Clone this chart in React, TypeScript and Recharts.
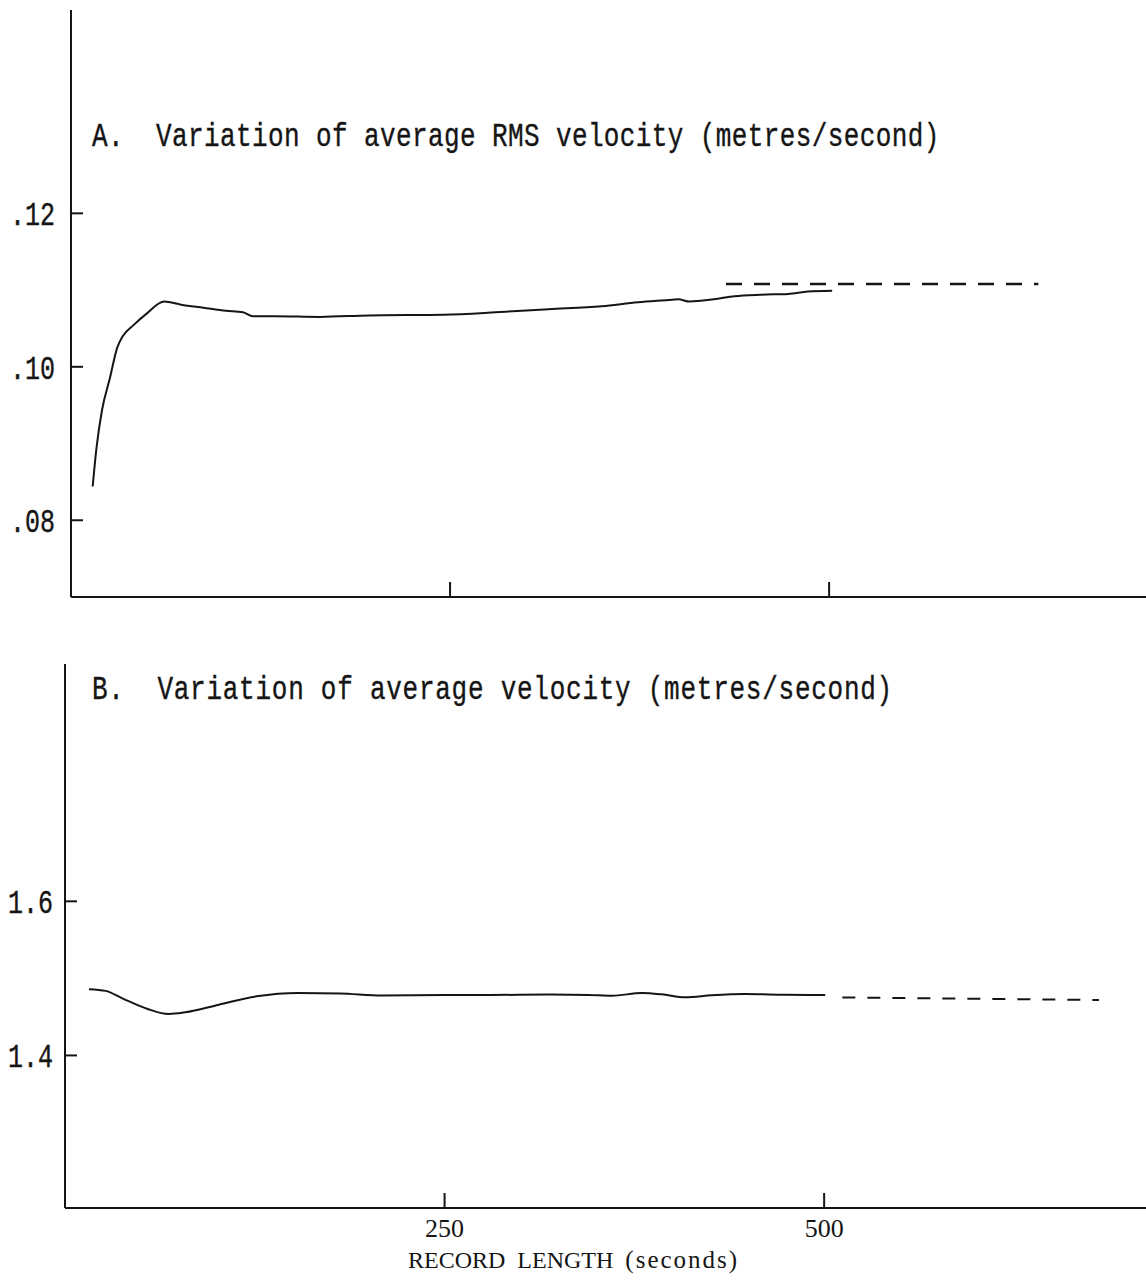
import { LineChart, Line, XAxis, YAxis } from 'recharts';

// A. average RMS velocity against record length
const rmsSeconds = [14.3, 16.8, 20.5, 25.5, 30.5, 34.2, 41.6, 50.3, 61.4, 72.6, 87.4, 102.2, 113.4, 119.6, 134.5, 164.2, 196.4, 245.9, 280, 315, 350, 374, 394, 400.5, 408, 424, 437.6, 455, 473, 486, 502];
const rmsVelocity = [0.0844, 0.0894, 0.0944, 0.0984, 0.1025, 0.104, 0.1055, 0.107, 0.1085, 0.1081, 0.1077, 0.1073, 0.1071, 0.1066, 0.1066, 0.1065, 0.1067, 0.1068, 0.1071, 0.1075, 0.1079, 0.1084, 0.1087, 0.1088, 0.1085, 0.1088, 0.1092, 0.1094, 0.1095, 0.1098, 0.1099];
const rmsLimitSeconds = [432, 638];
const rmsLimitVelocity = [0.1108, 0.1108];
const rmsTicks = [0.08, 0.1, 0.12];

// B. average velocity against record length
const meanSeconds = [15.8, 26.8, 37.8, 54.4, 68.2, 79.2, 101.3, 126.1, 153.6, 181.2, 208.8, 250.2, 277.7, 320, 345, 360.3, 380, 393, 408.5, 426, 448, 474.3, 500.7];
const meanVelocity = [1.486, 1.4838, 1.474, 1.4603, 1.4537, 1.4559, 1.4658, 1.4767, 1.4811, 1.4805, 1.4778, 1.4784, 1.4784, 1.479, 1.4785, 1.4775, 1.481, 1.4793, 1.4754, 1.478, 1.4797, 1.4788, 1.4784];
const meanLimitSeconds = [512, 600, 681];
const meanLimitVelocity = [1.4752, 1.4736, 1.472];
const meanTicks = [1.4, 1.6];

const secondTicks = [250, 500];

const ink = '#151515';
const mono = '"Liberation Mono", monospace';
const serif = '"Liberation Serif", serif';

const zip = (xs: number[], ys: number[]) => xs.map((t, i) => ({ t, v: ys[i] }));

const TypeTick = (props: any) => {
  const { x, y, payload, fmt } = props;
  return (
    <g transform={`translate(${x},${y}) scale(1,1.3)`}>
      <text x={0} y={0} dy="0.36em" textAnchor="end" fontFamily={mono} fontSize={25} fill={ink}
        stroke={ink} strokeWidth={0.3}>
        {fmt(payload.value)}
      </text>
    </g>
  );
};

const axisStyle = { stroke: ink, strokeWidth: 2 };

export default function App() {
  return (
    <div style={{ position: 'absolute', left: 0, top: 0, width: 1146, height: 1288, background: '#fff' }}>
      <div style={{ position: 'absolute', left: 0, top: 0 }}>
        <LineChart width={1146} height={610} margin={{ top: 10, right: 0, bottom: 0, left: 0 }}>
          <XAxis type="number" dataKey="t" domain={[0, 709]} ticks={secondTicks} height={13}
            tickSize={-15} tickFormatter={() => ''} axisLine={axisStyle} tickLine={axisStyle} allowDataOverflow />
          <YAxis type="number" domain={[0.07, 0.1465]} ticks={rmsTicks} width={71} tickSize={-12} tickMargin={28}
            axisLine={axisStyle} tickLine={axisStyle} allowDataOverflow
            tick={<TypeTick fmt={(v: number) => v.toFixed(2).replace(/^0/, '')} />} />
          <Line data={zip(rmsSeconds, rmsVelocity)} dataKey="v" type="monotone" dot={false}
            stroke={ink} strokeWidth={2} isAnimationActive={false} />
          <Line data={zip(rmsLimitSeconds, rmsLimitVelocity)} dataKey="v" type="linear" dot={false}
            stroke={ink} strokeWidth={2.5} strokeDasharray="16 12" isAnimationActive={false} />
        </LineChart>
      </div>
      <div style={{ position: 'absolute', left: 0, top: 640 }}>
        <LineChart width={1146} height={648} margin={{ top: 24, right: 0, bottom: 0, left: 0 }}>
          <XAxis type="number" dataKey="t" domain={[0, 712]} ticks={secondTicks} height={80}
            tickSize={-15} tickMargin={26} axisLine={axisStyle} tickLine={axisStyle} allowDataOverflow
            tick={{ fontFamily: serif, fontSize: 26, fill: ink }} />
          <YAxis type="number" domain={[1.202, 1.908]} ticks={meanTicks} width={65} tickSize={-12} tickMargin={24}
            axisLine={axisStyle} tickLine={axisStyle} allowDataOverflow
            tick={<TypeTick fmt={(v: number) => v.toFixed(1)} />} />
          <Line data={zip(meanSeconds, meanVelocity)} dataKey="v" type="monotone" dot={false}
            stroke={ink} strokeWidth={2} isAnimationActive={false} />
          <Line data={zip(meanLimitSeconds, meanLimitVelocity)} dataKey="v" type="linear" dot={false}
            stroke={ink} strokeWidth={2} strokeDasharray="13 12" isAnimationActive={false} />
        </LineChart>
      </div>
      <svg width={1146} height={1288} style={{ position: 'absolute', left: 0, top: 0, pointerEvents: 'none' }}>
        <text transform="translate(92,146) scale(1,1.3)" fontFamily={mono} fontSize={26} letterSpacing={0.4}
          fill={ink} stroke={ink} strokeWidth={0.3} xmlSpace="preserve" style={{ whiteSpace: 'pre' }}>
          A.  Variation of average RMS velocity (metres/second)
        </text>
        <text transform="translate(92,699) scale(1,1.3)" fontFamily={mono} fontSize={26} letterSpacing={0.75}
          fill={ink} stroke={ink} strokeWidth={0.3} xmlSpace="preserve" style={{ whiteSpace: 'pre' }}>
          B.  Variation of average velocity (metres/second)
        </text>
        <text x={408} y={1268} fontFamily={serif} fontSize={24} fill={ink} xmlSpace="preserve" style={{ whiteSpace: 'pre' }}>
          RECORD  LENGTH  <tspan fontSize={25} letterSpacing={2}>(seconds)</tspan>
        </text>
      </svg>
    </div>
  );
}
